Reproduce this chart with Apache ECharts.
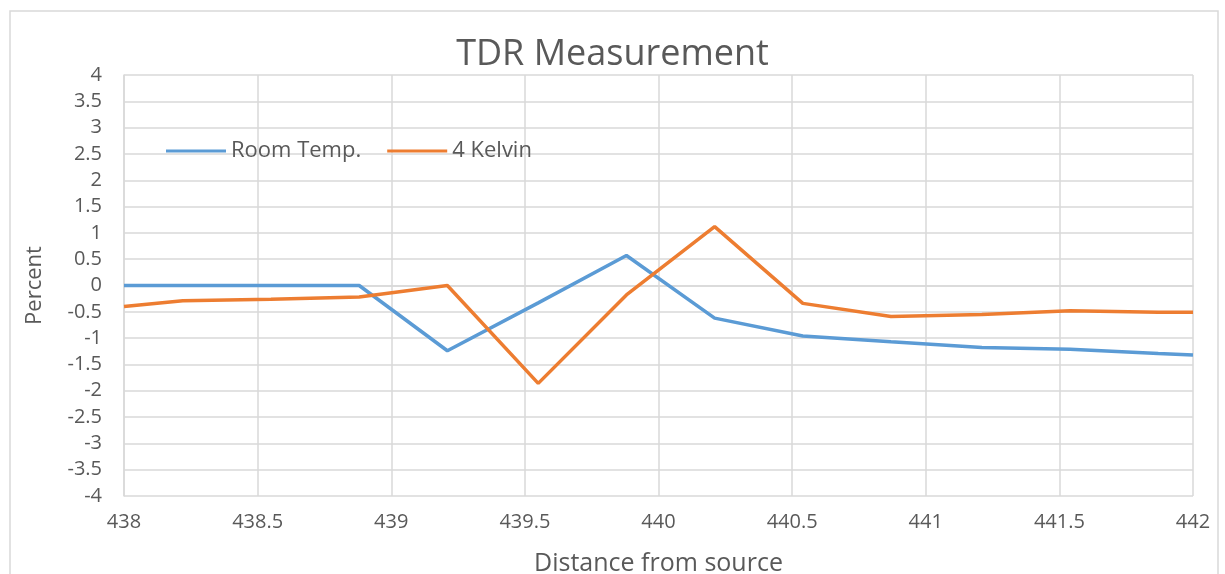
<!DOCTYPE html>
<html>
<head>
<meta charset="utf-8">
<script src="https://cdn.jsdelivr.net/npm/echarts@6/dist/echarts.min.js"></script>
<style>html,body{margin:0;padding:0;background:#fff;}#c{width:1225px;height:574px;}</style>
</head>
<body>
<div id="c"></div>
<script>
const xValues = [438, 438.22, 438.55, 438.88, 439.21, 439.55, 439.88, 440.21, 440.54, 440.87, 441.21, 441.54, 441.87, 442];
const roomTemp = [0, 0, 0, 0, -1.24, -0.33, 0.57, -0.62, -0.96, -1.07, -1.18, -1.21, -1.29, -1.32];
const kelvin4 = [-0.40, -0.29, -0.26, -0.22, 0, -1.86, -0.18, 1.12, -0.34, -0.59, -0.55, -0.48, -0.51, -0.51];
const seriesNames = ['Room Temp.', '4 Kelvin'];
const colors = ['#5B9BD5', '#ED7D31'];

const chart = echarts.init(document.getElementById('c'));
const font = 'Open Sans';
function pairs(ys){ return xValues.map((x,i)=>[x, ys[i]]); }
chart.setOption({
  animation: false,
  title: {
    text: 'TDR Measurement', left: 'center', top: 32,
    textStyle: {fontFamily: font, fontSize: 36, fontWeight: 'normal', color: '#595959'}
  },
  graphic: [{type:'rect', shape:{x:10, y:11, width:1208, height:600}, style:{fill:'none', stroke:'#d9d9d9', lineWidth:1.5}, silent:true}],
  legend: {
    left: 161, top: 135, itemWidth: 60, itemHeight: 3, itemGap: 26,
    icon: 'rect',
    textStyle: {fontFamily: font, fontSize: 22, color: '#595959'},
    data: seriesNames
  },
  grid: {left: 124, right: 32, top: 75, bottom: 78, containLabel: false, outerBoundsMode: 'none'},
  xAxis: {
    type: 'value', min: 438, max: 442, interval: 0.5,
    name: 'Distance from source', nameLocation: 'middle', nameGap: 55,
    nameTextStyle: {fontFamily: font, fontSize: 25, color: '#595959'},
    axisLine: {show: true, lineStyle: {color: '#d9d9d9', width: 1.5}},
    axisTick: {show: false},
    axisLabel: {fontFamily: font, fontSize: 20, color: '#595959', margin: 16},
    splitLine: {show: true, lineStyle: {color: '#d9d9d9', width: 1.5}}
  },
  yAxis: {
    type: 'value', min: -4, max: 4, interval: 0.5,
    name: 'Percent', nameLocation: 'middle', nameGap: 78,
    nameTextStyle: {fontFamily: font, fontSize: 22, color: '#595959'},
    axisLine: {show: true, lineStyle: {color: '#d9d9d9', width: 1.5}},
    axisTick: {show: false},
    axisLabel: {fontFamily: font, fontSize: 20, color: '#595959', margin: 22},
    splitLine: {show: true, lineStyle: {color: '#d9d9d9', width: 1.5}}
  },
  series: [
    {name: seriesNames[0], type: 'line', data: pairs(roomTemp), showSymbol: false, symbol: 'none',
     lineStyle: {color: colors[0], width: 3.5}, itemStyle: {color: colors[0]}},
    {name: seriesNames[1], type: 'line', data: pairs(kelvin4), showSymbol: false, symbol: 'none',
     lineStyle: {color: colors[1], width: 3.5}, itemStyle: {color: colors[1]}}
  ]
});
</script>
</body>
</html>
